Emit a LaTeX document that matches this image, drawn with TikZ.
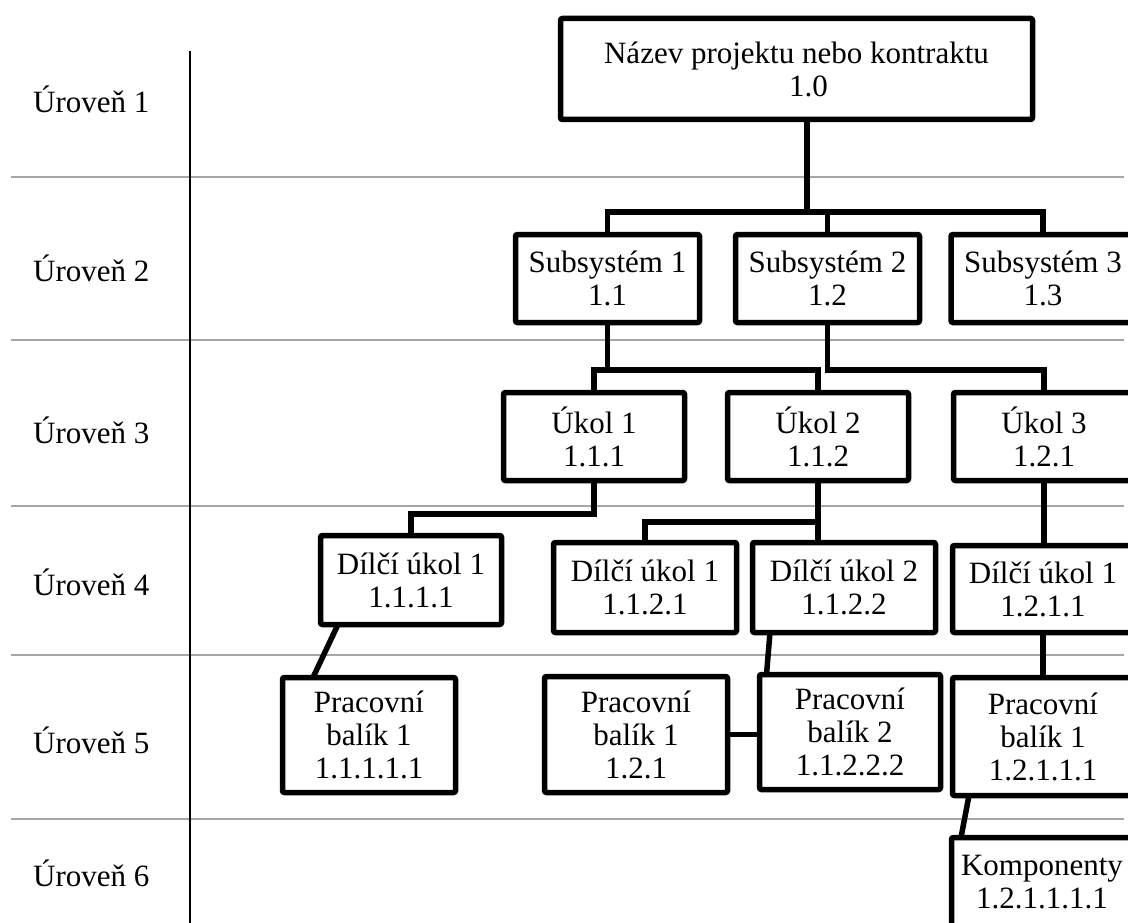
\documentclass[tikz,border=0pt]{standalone}
\usepackage{fontspec}
\setmainfont{Liberation Serif}
\usetikzlibrary{calc}
\begin{document}
\begin{tikzpicture}[x=1pt,y=-1pt,
  wbs/.style={draw, fill=white, line width=5.5pt, rounded corners=2pt,
    inner sep=0pt, outer sep=0pt, align=center,
    font=\fontsize{31}{33}\selectfont},
  conn/.style={line width=5.5pt},
  levelrule/.style={draw=black!35, line width=2pt},
  axisline/.style={draw=black, line width=2.5pt},
  levellabel/.style={anchor=west, inner sep=0pt,
    font=\fontsize{31}{33}\selectfont}]
\useasboundingbox (0,0) rectangle (1128,923);
\clip (0,0) rectangle (1128,923);

% level separators and axis
\foreach \yy in {177,340,506,655,819}
  \draw[levelrule] (11,\yy) -- (1124,\yy);
\draw[axisline] (190,51) -- (190,923);

% level labels
\node[levellabel] (L1) at (33,99)  {Úroveň 1};
\node[levellabel] (L2) at (33,268) {Úroveň 2};
\node[levellabel] (L3) at (33,430) {Úroveň 3};
\node[levellabel] (L4) at (33,582) {Úroveň 4};
\node[levellabel] (L5) at (33,740) {Úroveň 5};
\node[levellabel] (L6) at (33,873) {Úroveň 6};

% level 1
\node[wbs, minimum width=472pt, minimum height=101pt] (root) at (796.5,69)
  {Název projektu nebo kontraktu\\\hspace*{24pt}1.0};

% level 2
\node[wbs, minimum width=184pt, minimum height=88pt] (sub1) at (607.5,278.5) {Subsystém 1\\1.1};
\node[wbs, minimum width=184pt, minimum height=88pt] (sub2) at (827.5,278.5) {Subsystém 2\\1.2};
\node[wbs, minimum width=184pt, minimum height=88pt] (sub3) at (1043,278.5) {Subsystém 3\\1.3};

% level 3
\node[wbs, minimum width=181pt, minimum height=88pt] (uk1) at (594,436.5) {Úkol 1\\1.1.1};
\node[wbs, minimum width=181pt, minimum height=88pt] (uk2) at (818,436.5) {Úkol 2\\1.1.2};
\node[wbs, minimum width=181pt, minimum height=88pt] (uk3) at (1044,436.5) {Úkol 3\\1.2.1};

% level 4
\node[wbs, minimum width=181pt, minimum height=89pt] (dil1) at (411,580) {Dílčí úkol 1\\1.1.1.1};
\node[wbs, minimum width=183pt, minimum height=90pt] (dil2) at (645,587.5) {Dílčí úkol 1\\1.1.2.1};
\node[wbs, minimum width=183pt, minimum height=90pt] (dil3) at (844,587.5) {Dílčí úkol 2\\1.1.2.2};
\node[wbs, minimum width=181pt, minimum height=87pt] (dil4) at (1043,589) {Dílčí úkol 1\\1.2.1.1};

% level 5
\node[wbs, minimum width=173pt, minimum height=115pt] (pb1) at (369,735) {Pracovní\\balík 1\\1.1.1.1.1};
\node[wbs, minimum width=183pt, minimum height=116pt] (pb3) at (636,734.5) {Pracovní\\balík 1\\1.2.1};
\node[wbs, minimum width=181pt, minimum height=115pt] (pb2) at (850,732) {Pracovní\\balík 2\\1.1.2.2.2};
\node[wbs, minimum width=181pt, minimum height=118pt] (pb4) at (1043,736.5) {Pracovní\\balík 1\\1.2.1.1.1};

% level 6
\node[wbs, minimum width=181pt, minimum height=90pt] (komp) at (1042,882.5) {Komponenty\\1.2.1.1.1.1};

% connectors: level 1 -> 2
\coordinate (b2) at (807,212);
\draw[conn] (root.south -| b2) -- (b2);
\draw[conn] (sub1.north) -- (sub1.north |- b2) -- (sub3.north |- b2) -- (sub3.north);
\draw[conn] (sub2.north) -- (sub2.north |- b2);

% level 2 -> 3
\coordinate (b3) at (0,370);
\draw[conn] (sub1.south) -- (sub1.south |- b3);
\draw[conn] (uk1.north) -- (uk1.north |- b3) -- (uk2.north |- b3) -- (uk2.north);
\draw[conn] (sub2.south) -- (sub2.south |- b3) -- (uk3.north |- b3) -- (uk3.north);

% level 3 -> 4
\coordinate (b4a) at (0,514);
\coordinate (b4b) at (0,522);
\draw[conn] (uk1.south) -- (uk1.south |- b4a) -- (dil1.north |- b4a) -- (dil1.north);
\draw[conn] (uk2.south) -- (uk2.south |- dil3.north);
\draw[conn] (dil2.north) -- (dil2.north |- b4b) -- (uk2.south |- b4b);
\draw[conn] (uk3.south) -- (uk3.south |- dil4.north);

% level 4 -> 5
\draw[conn] ($(dil1.south west)+(17.5,0)$) -- ($(pb1.north west)+(30.5,0)$);
\draw[conn] ($(dil3.south west)+(17.5,0)$) -- ($(pb2.north west)+(7,0)$);
\draw[conn] (pb3.east) -- (pb3.east -| pb2.west);
\draw[conn] (dil4.south) -- (dil4.south |- pb4.north);

% level 5 -> 6
\draw[conn] ($(pb4.south west)+(16.5,0)$) -- ($(komp.north west)+(9.5,0)$);
\end{tikzpicture}
\end{document}
